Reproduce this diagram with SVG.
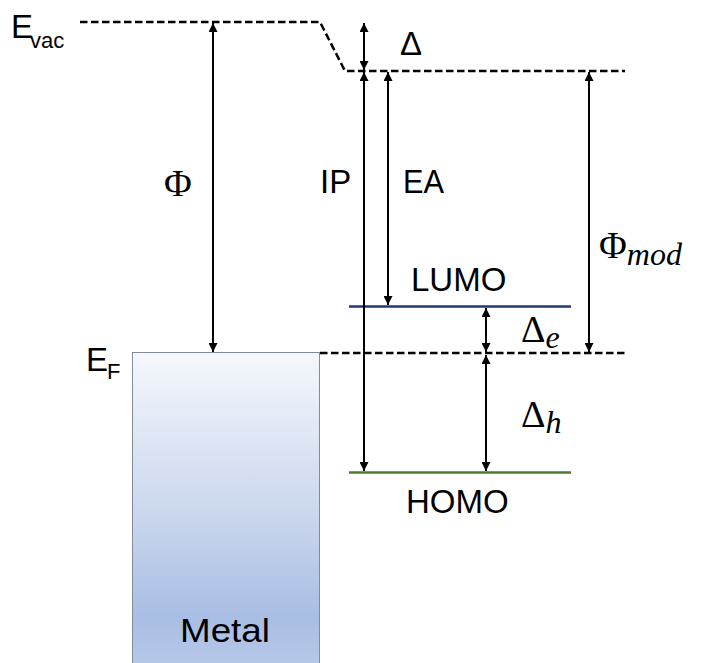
<svg xmlns="http://www.w3.org/2000/svg" width="701" height="663" viewBox="0 0 701 663">
<style>
.dash{fill:none;stroke:#000;stroke-width:2.5;stroke-dasharray:7.5,3.5}
.arr{fill:none;stroke:#000;stroke-width:2;marker-start:url(#ah);marker-end:url(#ah)}
.sans{font-family:"Liberation Sans",Arial,sans-serif;font-size:33px;fill:#000}
.sub{font-size:22px}
.math{font-family:"Liberation Serif","Times New Roman",serif;font-size:38px;fill:#000}
.mi{font-style:italic;font-size:32px}
</style>
<defs>
<marker id="ah" viewBox="0 0 10 10" refX="10" refY="5" markerWidth="10" markerHeight="9" markerUnits="userSpaceOnUse" orient="auto-start-reverse">
<path d="M0,0 L10,5 L0,10 z" fill="#000"/>
</marker>
<linearGradient id="metalg" x1="0" y1="0" x2="0" y2="1">
<stop offset="0" stop-color="#F5F7FC"/>
<stop offset="0.5" stop-color="#CCD8EE"/>
<stop offset="0.85" stop-color="#A9BEE4"/>
<stop offset="1" stop-color="#B6C8E8"/>
</linearGradient>
</defs>
<g id="metal">
<rect x="132.5" y="352.5" width="187" height="312" fill="url(#metalg)" stroke="#7F8C99" stroke-width="1"/>
<text class="sans" x="180" y="642" textLength="90" lengthAdjust="spacingAndGlyphs">Metal</text>
</g>
<g id="levels">
<path id="evac" class="dash" d="M80,22 H320 L345,71 H625"/>
<path id="ef" class="dash" d="M320,353 H625"/>
<line id="lumo" x1="349" y1="306.5" x2="571" y2="306.5" stroke="#1F3A73" stroke-width="2.5"/>
<line id="homo" x1="349" y1="472.5" x2="571" y2="472.5" stroke="#4F7A33" stroke-width="2.5"/>
</g>
<g id="connectors">
<line class="arr" x1="213" y1="23" x2="213" y2="352"/>
<line class="arr" x1="364" y1="23" x2="364" y2="70"/>
<line class="arr" x1="364" y1="72" x2="364" y2="471"/>
<line class="arr" x1="388" y1="72" x2="388" y2="305"/>
<line class="arr" x1="589" y1="72" x2="589" y2="352"/>
<line class="arr" x1="486" y1="308" x2="486" y2="352"/>
<line class="arr" x1="486" y1="355" x2="486" y2="471"/>
</g>
<g id="labels">
<text class="sans" x="11" y="38">E<tspan class="sub" dx="-3" dy="10">vac</tspan></text>
<text class="sans" x="86" y="371">E<tspan class="sub" dx="-1" dy="8">F</tspan></text>
<text class="math" x="164" y="196">Φ</text>
<text class="sans" x="320" y="193">IP</text>
<text class="sans" x="403" y="193" textLength="41" lengthAdjust="spacingAndGlyphs">EA</text>
<text class="sans" x="400" y="55">Δ</text>
<text class="sans" x="411" y="291">LUMO</text>
<text class="sans" x="406" y="513">HOMO</text>
<text class="math" x="599" y="258">Φ<tspan class="mi" dy="7">mod</tspan></text>
<text class="math" x="521" y="342">Δ<tspan class="mi" dy="6">e</tspan></text>
<text class="math" x="521" y="427">Δ<tspan class="mi" dy="6">h</tspan></text>
</g>
</svg>
